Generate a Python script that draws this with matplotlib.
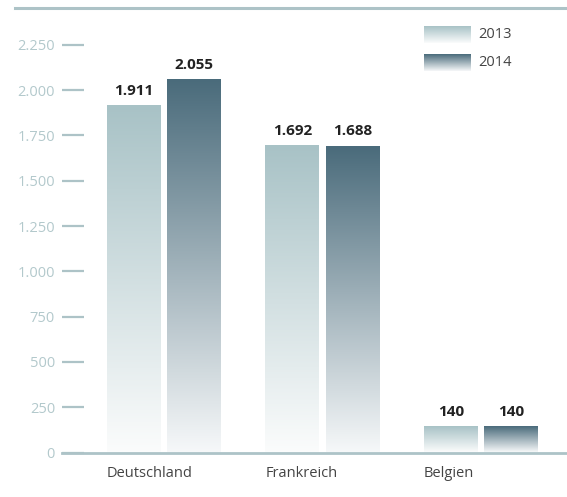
import matplotlib.pyplot as plt
import numpy as np
from matplotlib.colors import LinearSegmentedColormap
from matplotlib.lines import Line2D

categories = ["Deutschland", "Frankreich", "Belgien"]
values_2013 = [1911, 1692, 140]
values_2014 = [2055, 1688, 140]
series_labels = ["2013", "2014"]
yticks = [0, 250, 500, 750, 1000, 1250, 1500, 1750, 2000, 2250]
ytick_labels = ["0", "250", "500", "750", "1.000", "1.250", "1.500", "1.750", "2.000", "2.250"]

plt.rcParams["font.family"] = ["Open Sans", "DejaVu Sans"]

axis_col = "#adc3c7"
cmap_2013 = LinearSegmentedColormap.from_list("c13", ["#fbfcfc", "#a8c2c6"])
cmap_2014 = LinearSegmentedColormap.from_list("c14", ["#f6f8f9", "#4a6b7b"])
grad = np.linspace(0, 1, 256).reshape(-1, 1)

fig = plt.figure(figsize=(5.67, 4.97), dpi=100)
W, H = 567, 497
ax = fig.add_axes([62 / W, (H - 452.5) / H, 1 - 62 / W, (452.5 - 8) / H])

x = np.arange(len(categories))
width = 0.34
offset = 0.19


def gradient_bar(x0, h, cmap):
    ax.imshow(grad, cmap=cmap, origin="lower", aspect="auto",
              extent=(x0 - width / 2, x0 + width / 2, 0, h), zorder=2)


for i in range(len(categories)):
    gradient_bar(x[i] - offset, values_2013[i], cmap_2013)
    gradient_bar(x[i] + offset, values_2014[i], cmap_2014)
    for xx, v in ((x[i] - offset, values_2013[i]), (x[i] + offset, values_2014[i])):
        ax.text(xx, v + 45, f"{v:,}".replace(",", "."), ha="center", va="bottom",
                fontsize=11, fontweight="bold", color="#222222")
    ax.text(x[i] - offset - width / 2, -75, categories[i], ha="left", va="top",
            fontsize=10.5, color="#444444")

ax.set_xlim(-(164 - 62) / 158.5, (567 - 164) / 158.5)
ax.set_ylim(0, (452.5 - 8) / 45.3 * 250)

ax.set_yticks(yticks)
ax.set_yticklabels(ytick_labels)
ax.tick_params(axis="y", direction="in", length=16, width=1.6, color=axis_col,
               labelcolor="#b3c9cc", labelsize=10.5, pad=5)
ax.set_xticks([])
for s in ("left", "right", "top"):
    ax.spines[s].set_visible(False)
ax.spines["bottom"].set_color(axis_col)
ax.spines["bottom"].set_linewidth(2)
ax.patch.set_alpha(0)

# top rule
fig.add_artist(Line2D([15 / W, 1], [(H - 8) / H, (H - 8) / H], color=axis_col, lw=2.2))

# legend with gradient swatches
for j, (lab, cm) in enumerate(zip(series_labels, (cmap_2013, cmap_2014))):
    y_top = 26 + j * 28
    lax = fig.add_axes([424 / W, (H - y_top - 17) / H, 47 / W, 17 / H])
    lax.imshow(grad, cmap=cm, origin="lower", aspect="auto")
    lax.axis("off")
    fig.text(478 / W, (H - y_top - 8.5) / H, lab, ha="left", va="center",
             fontsize=10.5, color="#444444")

fig.savefig("out.png", dpi=100)
